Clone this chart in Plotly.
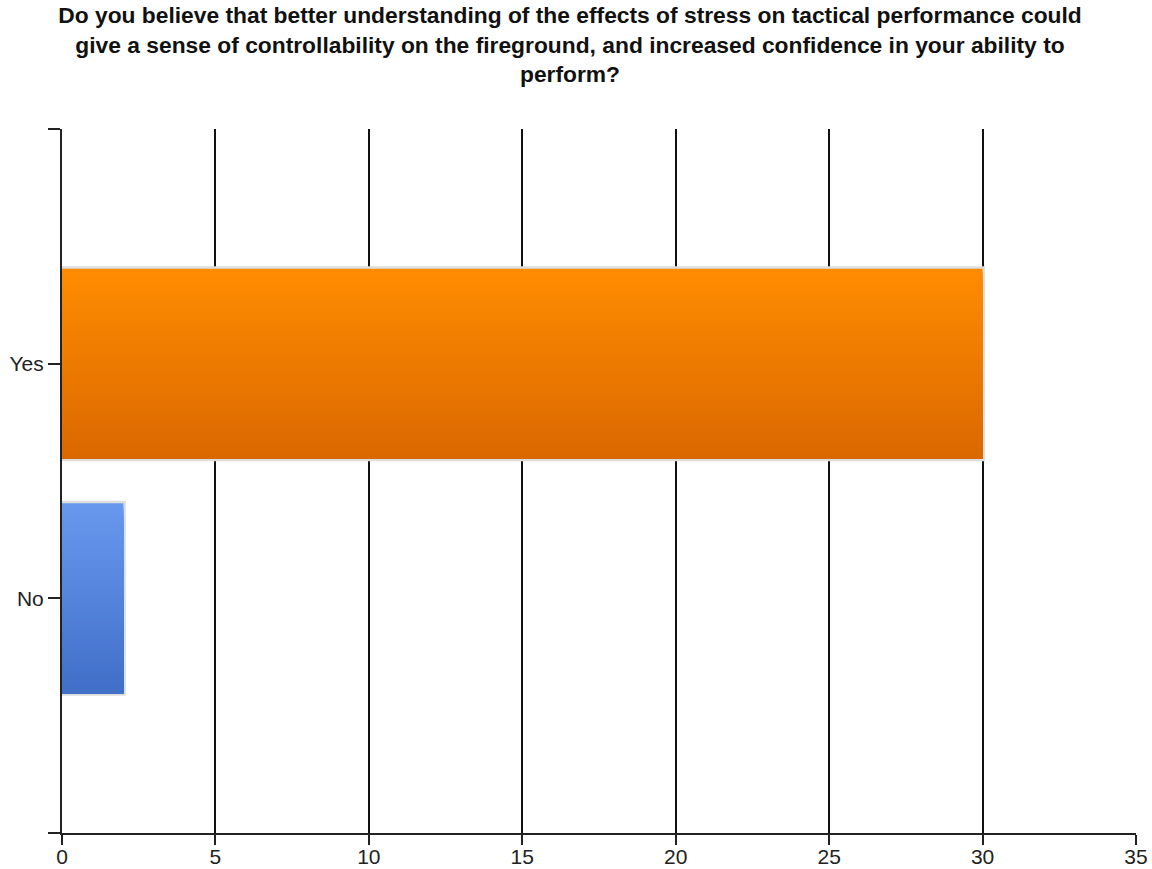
import plotly.graph_objects as go

# survey answers, bottom to top
categories = ["No", "Yes"]
counts = [2, 30]
x_ticks = [0, 5, 10, 15, 20, 25, 30, 35]

title_text = ("<b>Do you believe that better understanding of the effects of stress on tactical performance could<br>"
              "give a sense of controllability on the fireground, and increased confidence in your ability to<br>"
              "perform?</b>")

# gradient end colours per bar (top -> bottom)
top_colors = ["#6898EE", "#FF8C00"]
bottom_colors = ["#416FC8", "#DA6800"]

BAR_W = 0.81
N_STRIPS = 60


def mix(c1, c2, t):
    a = [int(c1[i:i + 2], 16) for i in (1, 3, 5)]
    b = [int(c2[i:i + 2], 16) for i in (1, 3, 5)]
    return "#" + "".join(f"{round(a[k] + (b[k] - a[k]) * t):02x}" for k in range(3))


ypos = list(range(len(categories)))

fig = go.Figure()

# light grey frame around each bar
fig.add_trace(go.Bar(
    x=counts, y=ypos, orientation="h", width=BAR_W,
    marker=dict(color="#dddddd", line=dict(color="#dddddd", width=5)),
    hoverinfo="skip", showlegend=False
))

# vertical gradient: stacked strips, each covering from the bottom up
for i in range(N_STRIPS):
    t = i / (N_STRIPS - 1)
    cols = [mix(top_colors[k], bottom_colors[k], t) for k in range(len(categories))]
    fig.add_trace(go.Bar(
        x=counts, y=ypos, orientation="h",
        width=BAR_W * (N_STRIPS - i) / N_STRIPS,
        offset=-BAR_W / 2,
        marker=dict(color=cols, line=dict(width=0)),
        hoverinfo="skip" if i else "x+y", showlegend=False
    ))

font_family = "Liberation Sans, Arial, sans-serif"

fig.update_layout(
    width=1152, height=869,
    barmode="overlay",
    paper_bgcolor="white", plot_bgcolor="white",
    margin=dict(l=62, r=16, t=129, b=36),
    title=dict(
        text=title_text,
        x=0.4948, xanchor="center",
        y=0.9735, yanchor="middle",
        automargin=False,
        font=dict(family=font_family, size=22.8, color="#111111")
    ),
    xaxis=dict(
        range=[0, 35], tickvals=x_ticks,
        automargin=False,
        showgrid=True, gridcolor="#111111", gridwidth=1.5,
        showline=True, linecolor="#222222", linewidth=2,
        ticks="outside", ticklen=10, tickwidth=2, tickcolor="#222222",
        ticklabelstandoff=-6,
        zeroline=False,
        tickfont=dict(family=font_family, size=21, color="#222222")
    ),
    yaxis=dict(
        range=[-1, len(categories)],
        tickvals=[-1] + ypos + [len(categories)],
        ticktext=[""] + categories + [""],
        automargin=False,
        showgrid=False,
        showline=True, linecolor="#222222", linewidth=2,
        ticks="outside", ticklen=12, tickwidth=2, tickcolor="#222222",
        zeroline=False,
        tickfont=dict(family=font_family, size=21, color="#222222")
    )
)

# drop the default page margin so the figure fills the window exactly
fig.write_html("out.html", config={"displayModeBar": False},
               post_script="document.body.style.margin='0';")
